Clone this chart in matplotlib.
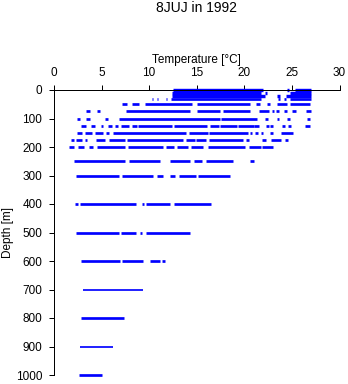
import matplotlib
matplotlib.use("Agg")
import matplotlib.pyplot as plt

plt.rcParams['font.family'] = ['Liberation Sans', 'DejaVu Sans']

title = "8JUJ in 1992"
xlabel = "Temperature [°C]"
ylabel = "Depth [m]"
x_ticks = [0, 5, 10, 15, 20, 25, 30]
y_ticks = [0, 100, 200, 300, 400, 500, 600, 700, 800, 900, 1000]

depths = [0, 10, 20, 30, 50, 75, 100, 125, 150, 175, 200,
          250, 300, 400, 500, 600, 700, 800, 900, 1000]

# temperature ranges (°C) observed at each depth
temp_ranges = [
    [(12.5, 22.0), (24.5, 24.7), (25.3, 27.0)],
    [(12.4, 21.8), (22.2, 22.4), (24.8, 27.0)],
    [(12.4, 22.2), (23.4, 23.8), (24.4, 27.0)],
    [(10.3, 10.4), (10.8, 10.9), (11.3, 11.4), (11.8, 11.9), (12.3, 21.7),
     (23.5, 23.7), (24.2, 24.4), (24.8, 27.0)],
    [(7.1, 7.65), (8.2, 8.9), (9.6, 14.5), (15.0, 20.6), (21.2, 21.6),
     (22.4, 22.7), (23.4, 24.5), (24.8, 26.9)],
    [(3.4, 3.8), (4.5, 4.85), (7.6, 14.25), (15.0, 17.4), (17.8, 20.6),
     (21.5, 22.6), (22.9, 23.1), (23.3, 23.6), (24.2, 24.5), (25.0, 25.4),
     (26.5, 27.0)],
    [(2.4, 2.7), (3.4, 3.8), (5.4, 5.7), (6.8, 17.4), (17.6, 21.3),
     (22.2, 22.5), (23.4, 23.6), (24.5, 24.8), (26.6, 26.95)],
    [(2.85, 3.4), (3.9, 4.3), (4.9, 5.2), (5.7, 6.1), (6.4, 6.7), (7.0, 7.9),
     (8.2, 8.7), (8.8, 12.4), (12.6, 16.1), (16.4, 17.3), (17.4, 19.2),
     (19.3, 21.0), (21.05, 21.5), (22.3, 22.6), (22.7, 23.05), (24.0, 24.3),
     (24.6, 24.95), (26.4, 26.95)],
    [(2.4, 2.9), (3.3, 4.0), (4.3, 5.1), (5.5, 5.8), (6.25, 13.9), (14.2, 16.2),
     (16.3, 20.35), (20.6, 20.8), (21.1, 21.4), (21.7, 22.0), (22.7, 23.0),
     (23.9, 25.1)],
    [(1.75, 2.1), (2.3, 2.9), (3.3, 3.5), (4.4, 5.4), (5.8, 7.5), (7.65, 13.6),
     (13.9, 14.8), (14.95, 16.0), (16.3, 19.9), (20.2, 20.5), (21.9, 22.3),
     (22.8, 23.9), (24.3, 24.6)],
    [(1.6, 2.1), (2.5, 3.1), (3.7, 4.1), (4.5, 7.5), (7.8, 11.5), (11.8, 12.6),
     (12.9, 14.1), (14.4, 15.7), (16.2, 20.1), (20.45, 21.75), (21.9, 23.0)],
    [(2.1, 7.5), (7.9, 11.15), (12.2, 14.25), (14.7, 15.55), (16.0, 18.8),
     (20.6, 21.05)],
    [(2.3, 6.8), (7.1, 10.4), (10.8, 11.5), (12.2, 12.7), (13.1, 14.95),
     (15.1, 18.5)],
    [(2.2, 2.5), (2.75, 8.6), (9.2, 9.5), (9.65, 12.2), (12.6, 16.5)],
    [(2.3, 6.8), (7.0, 8.6), (9.0, 9.2), (9.7, 14.3)],
    [(2.85, 6.9), (7.1, 9.3), (10.1, 11.1), (11.3, 11.7)],
    [(3.0, 9.3)],
    [(2.85, 7.35)],
    [(2.75, 6.25)],
    [(2.65, 5.0)],
]

# styling (line thickness in pixels per depth row)
px = 72.0 / 100.0
row_px = {0: 3.4, 10: 3.4, 20: 3.4, 700: 1.7, 900: 1.7}
default_px = 2.7
color = (0, 0, 1)

fig = plt.figure(figsize=(3.48, 3.84), dpi=100)
ax = fig.add_axes([54 / 348, 9 / 384, 285.5 / 348, 285 / 384])

for d, segs in zip(depths, temp_ranges):
    lw = row_px.get(d, default_px) * px
    for t0, t1 in segs:
        ax.hlines(d, t0, t1, colors=[color], linewidth=lw, clip_on=False)

ax.set_xlim(0, 30)
ax.set_ylim(1000, 0)
ax.set_xticks(x_ticks)
ax.set_yticks(y_ticks)
ax.xaxis.tick_top()
ax.xaxis.set_label_position('top')
for s in ('right', 'bottom'):
    ax.spines[s].set_visible(False)
for s in ('left', 'top'):
    ax.spines[s].set_linewidth(1.0 * px)
ax.tick_params(axis='both', direction='out', length=5 * px, width=1.0 * px,
               labelsize=8.5, colors='black')
ax.tick_params(axis='x', pad=4.5)
ax.tick_params(axis='y', pad=4.8)
ax.set_xlabel(xlabel, fontsize=8.5, labelpad=3)
ax.set_ylabel(ylabel, fontsize=8.5, labelpad=1)
fig.text((54 + 339.5) / 2 / 348, 1 - 8 / 384, title, ha='center', va='center',
         fontsize=10)

fig.savefig("out.png", dpi=100)
